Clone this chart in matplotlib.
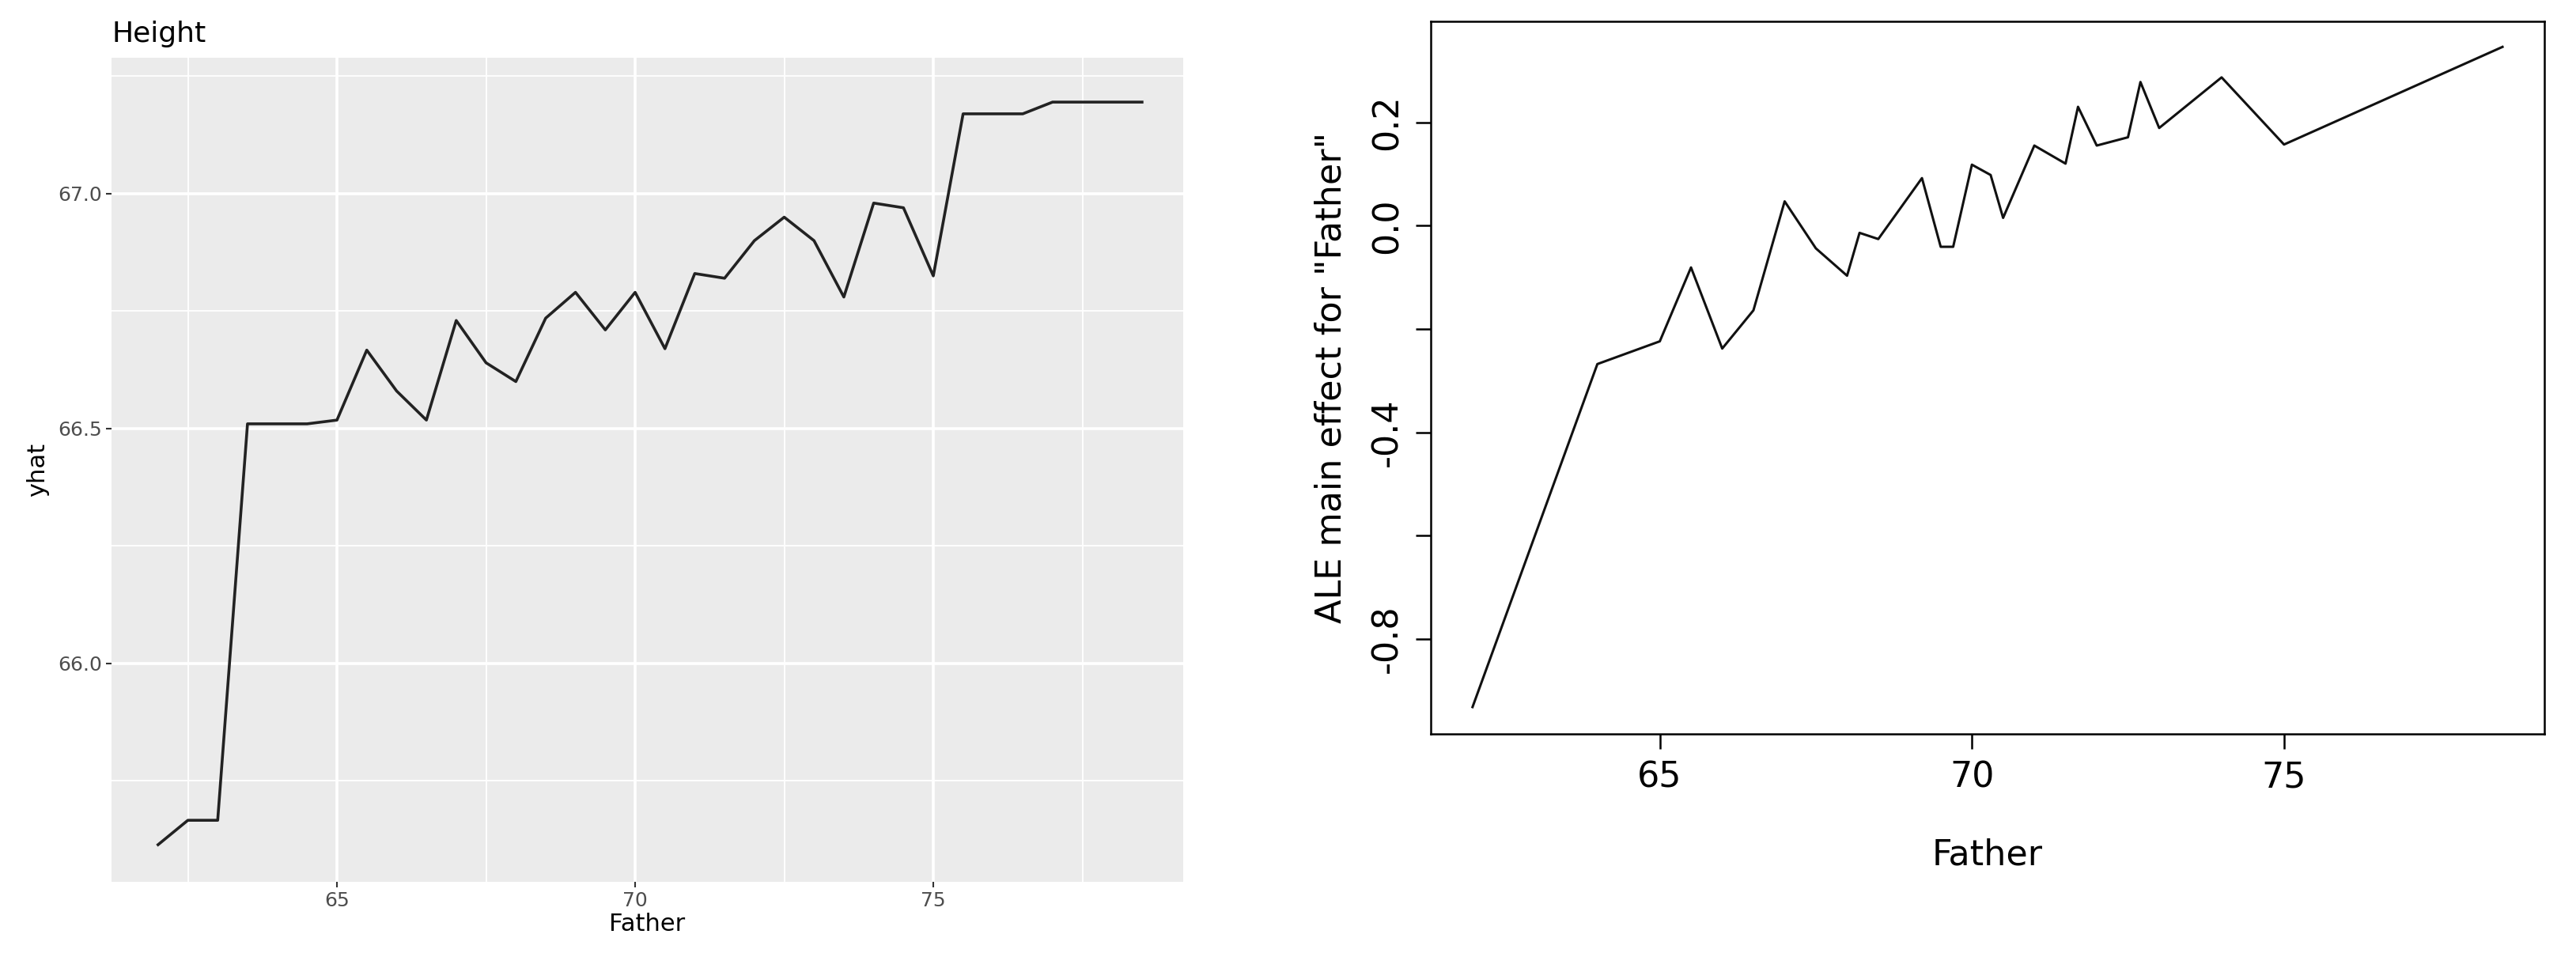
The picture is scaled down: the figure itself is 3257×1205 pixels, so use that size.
import numpy as np
import matplotlib.pyplot as plt

# PDP (left) values
pdp_father = [62.0, 62.5, 63.0, 63.5, 64.5, 65.0, 65.5, 66.0, 66.5, 67.0, 67.5, 68.0,
              68.5, 69.0, 69.5, 70.0, 70.5, 71.0, 71.5, 72.0, 72.5, 73.0, 73.5, 74.0,
              74.5, 75.0, 75.5, 76.5, 77.0, 78.5]
pdp_yhat = [65.614, 65.666, 65.666, 66.51, 66.51, 66.518, 66.667, 66.58, 66.518, 66.73,
            66.64, 66.60, 66.735, 66.79, 66.71, 66.79, 66.67, 66.83, 66.82, 66.90,
            66.95, 66.90, 66.78, 66.98, 66.97, 66.825, 67.17, 67.17, 67.195, 67.195]

# ALE (right) values
ale_father = [62.0, 64.0, 65.0, 65.5, 66.0, 66.5, 67.0, 67.5, 68.0, 68.2, 68.5, 69.2,
              69.5, 69.7, 70.0, 70.3, 70.5, 71.0, 71.5, 71.7, 72.0, 72.5, 72.7, 73.0,
              74.0, 75.0, 78.5]
ale_effect = [-0.932, -0.268, -0.224, -0.081, -0.238, -0.164, 0.047, -0.044, -0.097,
              -0.014, -0.026, 0.092, -0.041, -0.041, 0.118, 0.098, 0.015, 0.155, 0.120,
              0.230, 0.155, 0.171, 0.278, 0.189, 0.287, 0.157, 0.346]

fig = plt.figure(figsize=(32.57, 12.05), dpi=100)

# ggplot-like left panel
ax1 = fig.add_axes([0.0433, 0.0747, 0.416, 0.865])
ax1.set_facecolor("#EBEBEB")
for s in ax1.spines.values():
    s.set_visible(False)
ax1.set_xticks([65, 70, 75])
ax1.set_yticks([66.0, 66.5, 67.0])
ax1.set_yticklabels(["66.0", "66.5", "67.0"])
ax1.set_xticks([62.5, 67.5, 72.5, 77.5], minor=True)
ax1.set_yticks([65.75, 66.25, 66.75, 67.25], minor=True)
ax1.grid(True, which="major", color="white", lw=2.6)
ax1.grid(True, which="minor", color="white", lw=1.3)
ax1.set_axisbelow(True)
ax1.tick_params(which="major", colors="#333333", labelcolor="#4D4D4D", labelsize=18,
                length=5, width=1.5)
ax1.tick_params(which="minor", length=0)
ax1.plot(pdp_father, pdp_yhat, color="#222222", lw=2.6)
ax1.set_xlim(61.22, 79.19)
ax1.set_ylim(65.535, 67.29)
ax1.set_xlabel("Father", fontsize=22, labelpad=2)
ax1.set_ylabel("yhat", fontsize=22, labelpad=8)
ax1.set_title("Height", fontsize=26, loc="left", pad=14)

# base-R-like right panel
ax2 = fig.add_axes([0.5554, 0.2299, 0.4323, 0.748])
ax2.plot(ale_father, ale_effect, color="#111111", lw=2.2)
ax2.set_xlim(61.33, 79.17)
ax2.set_ylim(-0.984, 0.396)
ax2.set_xticks([65, 70, 75])
ax2.set_yticks([-0.8, -0.6, -0.4, -0.2, 0.0, 0.2])
ax2.set_yticklabels(["-0.8", "", "-0.4", "", "0.0", "0.2"], rotation=90, va="center")
ax2.tick_params(labelsize=32, length=14, width=1.8, pad=10)
for s in ax2.spines.values():
    s.set_linewidth(1.8)
ax2.set_xlabel("Father", fontsize=32, labelpad=40)
ax2.set_ylabel('ALE main effect for "Father"', fontsize=32, labelpad=20)

fig.savefig("out.png", dpi=100)
